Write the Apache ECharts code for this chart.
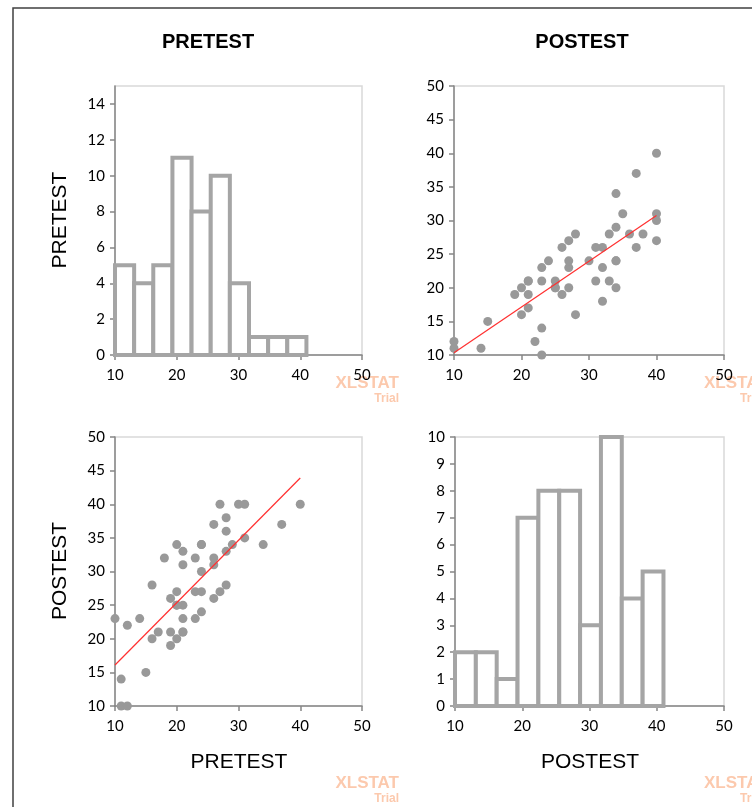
<!DOCTYPE html>
<html>
<head>
<meta charset="utf-8">
<script src="https://cdn.jsdelivr.net/npm/echarts@6/dist/echarts.min.js"></script>
<style>html,body{margin:0;padding:0;background:#fff;}#c{width:752px;height:807px;}</style>
</head>
<body>
<div id="c"></div>
<script>
// ---- data ----
const varNames = ['PRETEST', 'POSTEST'];
// histogram bin edges (shared by both variables)
const binEdges = [10, 13.1, 16.2, 19.3, 22.4, 25.5, 28.6, 31.7, 34.8, 37.9, 41];
const pretestCounts = [5, 4, 5, 11, 8, 10, 4, 1, 1, 1];
const posttestCounts = [2, 2, 1, 7, 8, 8, 3, 10, 4, 5];
// paired observations
const pretest  = [10,11,11,12,12,14,15,16,16,17,18,19,19,19,20,20,20,20,21,21,21,21,21,23,23,23,24,24,24,24,26,26,26,26,27,27,28,28,28,28,29,30,31,31,34,37,40,21,20,24];
const posttest = [23,14,10,10,22,23,15,20,28,21,32,26,21,19,34,27,25,20,33,31,25,23,21,32,27,23,34,30,27,24,37,32,31,26,40,27,38,36,33,28,34,40,40,35,34,37,40,21,25,34];
// regression line endpoints
const trendPreOnPost = [[10, 10.35], [40, 30.75]];   // x = POSTEST, y = PRETEST
const trendPostOnPre = [[10, 16.1], [40, 43.9]];     // x = PRETEST, y = POSTEST
// tick settings
const scatterTicks = {min: 10, max: 50, interval: 5};
const histXTicks = {min: 10, max: 50, interval: 10};
const preHistY = {min: 0, max: 15, interval: 2};
const postHistY = {min: 0, max: 10, interval: 1};

// ---- build ----
function bins(counts) {
  return counts.map((c, i) => [binEdges[i], binEdges[i + 1], c]);
}
const axisLabel = {color: '#000', fontFamily: 'Lato', fontSize: 15};
const axisLine = {show: true, lineStyle: {color: '#868686', width: 1.5}};
const axisTick = {show: true, length: 5, lineStyle: {color: '#868686', width: 1.5}};
function xAx(gi, t) {
  return {type: 'value', gridIndex: gi, min: t.min, max: t.max, interval: 10,
    axisLabel: Object.assign({margin: 13}, axisLabel), axisLine, axisTick, splitLine: {show: false}};
}
function yAx(gi, t) {
  return {type: 'value', gridIndex: gi, min: t.min, max: t.max, interval: t.interval,
    axisLabel: Object.assign({margin: 10, showMaxLabel: t.max % t.interval === 0}, axisLabel),
    axisLine, axisTick, splitLine: {show: false}};
}
function histRender(params, api) {
  const s = api.value(0), e = api.value(1), c = api.value(2);
  const p0 = api.coord([s, c]);
  const p1 = api.coord([e, 0]);
  return {type: 'rect', shape: {x: p0[0], y: p0[1], width: p1[0] - p0[0], height: p1[1] - p0[1]},
    style: {fill: '#fff', stroke: '#a5a5a5', lineWidth: 4}};
}
const gridStyle = {show: true, borderColor: '#d9d9d9', borderWidth: 1.5, backgroundColor: 'transparent'};
const dot = {color: '#999999', opacity: 1};

function wm(x, y, align) {
  return [
    {type: 'text', z: 0, style: {x: x, y: y, text: 'XLSTAT', fill: '#fcc9ad', font: 'bold 17px "Liberation Sans"', textAlign: align, textVerticalAlign: 'middle'}},
    {type: 'text', z: 0, style: {x: align === 'right' ? x : x + 36, y: y + 16, text: 'Trial', fill: '#fcc9ad', font: 'bold 12px "Liberation Sans"', textAlign: align, textVerticalAlign: 'middle'}}
  ];
}

const option = {
  animation: false,
  backgroundColor: '#fff',
  grid: [
    Object.assign({left: 115, top: 86, width: 247, height: 269}, gridStyle),
    Object.assign({left: 454, top: 86, width: 270, height: 269}, gridStyle),
    Object.assign({left: 115, top: 437, width: 247, height: 269}, gridStyle),
    Object.assign({left: 455, top: 437, width: 269, height: 269}, gridStyle)
  ],
  xAxis: [xAx(0, histXTicks), xAx(1, scatterTicks), xAx(2, scatterTicks), xAx(3, histXTicks)],
  yAxis: [yAx(0, preHistY), yAx(1, scatterTicks), yAx(2, scatterTicks), yAx(3, postHistY)],
  series: [
    {type: 'custom', xAxisIndex: 0, yAxisIndex: 0, renderItem: histRender, data: bins(pretestCounts), clip: false},
    {type: 'scatter', xAxisIndex: 1, yAxisIndex: 1, symbolSize: 9, itemStyle: dot,
      data: posttest.map((v, i) => [v, pretest[i]])},
    {type: 'line', xAxisIndex: 1, yAxisIndex: 1, data: trendPreOnPost, showSymbol: false, z: 5,
      lineStyle: {color: '#ff3030', width: 1.2}},
    {type: 'scatter', xAxisIndex: 2, yAxisIndex: 2, symbolSize: 9, itemStyle: dot,
      data: pretest.map((v, i) => [v, posttest[i]])},
    {type: 'line', xAxisIndex: 2, yAxisIndex: 2, data: trendPostOnPre, showSymbol: false, z: 5,
      lineStyle: {color: '#ff3030', width: 1.2}},
    {type: 'custom', xAxisIndex: 3, yAxisIndex: 3, renderItem: histRender, data: bins(posttestCounts), clip: false}
  ],
  graphic: [
    {type: 'rect', z: -10, shape: {x: 13, y: 8, width: 900, height: 900}, style: {fill: 'none', stroke: '#404040', lineWidth: 1.5}},
    {type: 'text', style: {x: 208, y: 42, text: varNames[0], font: 'bold 20px "Liberation Sans"', fill: '#000', textAlign: 'center', textVerticalAlign: 'middle'}},
    {type: 'text', style: {x: 582, y: 42, text: varNames[1], font: 'bold 20px "Liberation Sans"', fill: '#000', textAlign: 'center', textVerticalAlign: 'middle'}},
    {type: 'text', x: 60, y: 220, rotation: Math.PI / 2, style: {x: 0, y: 0, text: varNames[0], font: '21px "Liberation Sans"', fill: '#000', textAlign: 'center', textVerticalAlign: 'middle'}},
    {type: 'text', x: 60, y: 571, rotation: Math.PI / 2, style: {x: 0, y: 0, text: varNames[1], font: '21px "Liberation Sans"', fill: '#000', textAlign: 'center', textVerticalAlign: 'middle'}},
    {type: 'text', style: {x: 239, y: 762, text: varNames[0], font: '21px "Liberation Sans"', fill: '#000', textAlign: 'center', textVerticalAlign: 'middle'}},
    {type: 'text', style: {x: 590, y: 762, text: varNames[1], font: '21px "Liberation Sans"', fill: '#000', textAlign: 'center', textVerticalAlign: 'middle'}}
  ].concat(wm(399, 383, 'right'), wm(704, 383, 'left'), wm(399, 783, 'right'), wm(704, 783, 'left'))
};
const chart = echarts.init(document.getElementById('c'), null, {renderer: 'canvas'});
chart.setOption(option);
</script>
</body>
</html>
